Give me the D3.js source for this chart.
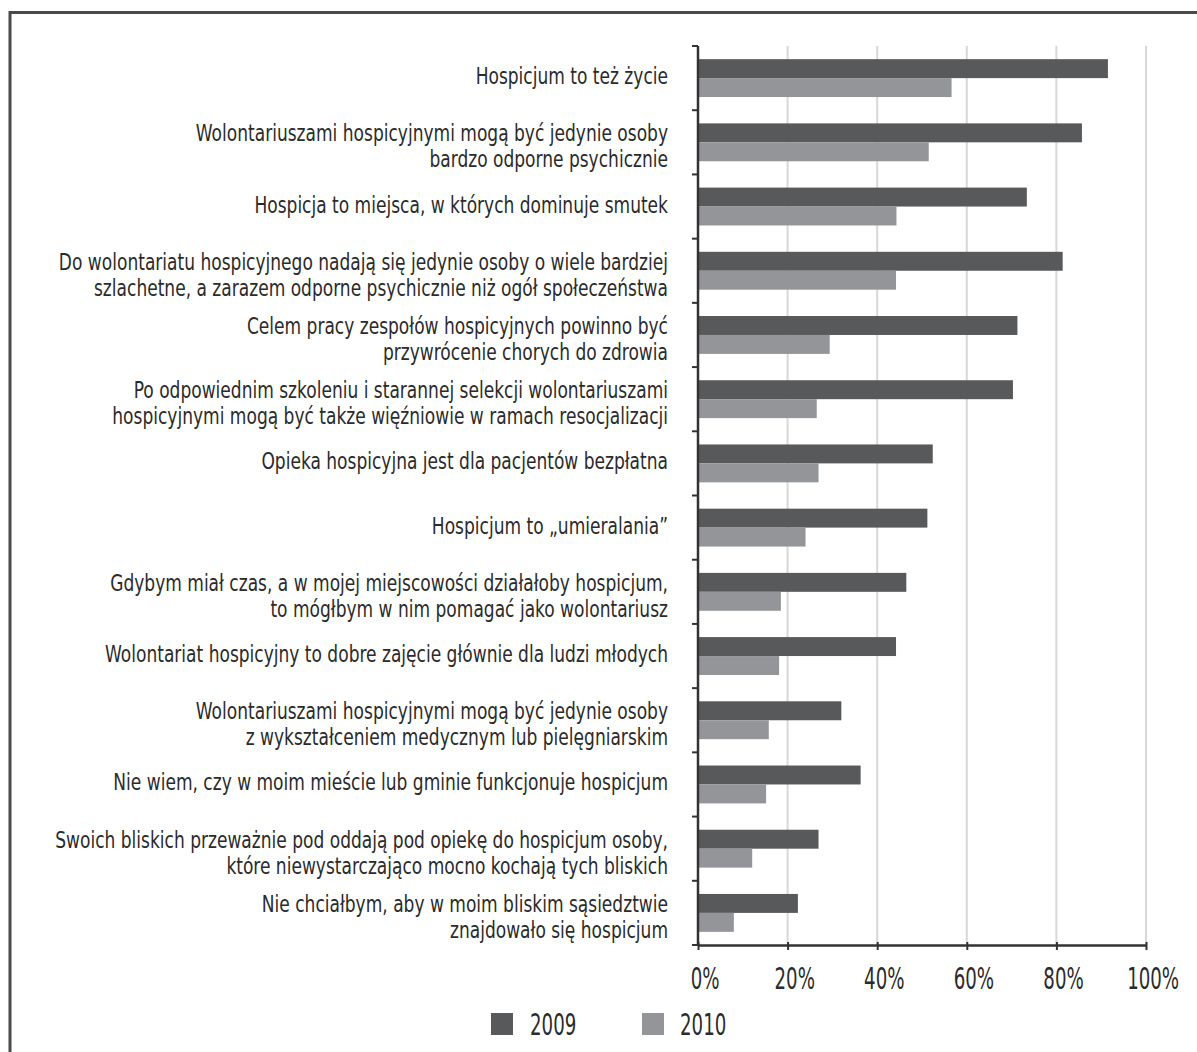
<!DOCTYPE html>
<html>
<head>
<meta charset="utf-8">
<script src="https://cdn.jsdelivr.net/npm/d3@7"></script>
<style>
  html, body { margin: 0; padding: 0; background: #fff; }
  svg { display: block; }
  text { font-family: "Liberation Sans Narrow", "Arial Narrow", "DejaVu Sans Condensed", "Liberation Sans", sans-serif; fill: #2b2b2b; }
</style>
</head>
<body>
<svg id="chart" width="1197" height="1052"></svg>
<script>
// Survey statements (each line of a label separated by "\n")
const statements = [
  "Hospicjum to też życie",
  "Wolontariuszami hospicyjnymi mogą być jedynie osoby\nbardzo odporne psychicznie",
  "Hospicja to miejsca, w których dominuje smutek",
  "Do wolontariatu hospicyjnego nadają się jedynie osoby o wiele bardziej\nszlachetne, a zarazem odporne psychicznie niż ogół społeczeństwa",
  "Celem pracy zespołów hospicyjnych powinno być\nprzywrócenie chorych do zdrowia",
  "Po odpowiednim szkoleniu i starannej selekcji wolontariuszami\nhospicyjnymi mogą być także więźniowie w ramach resocjalizacji",
  "Opieka hospicyjna jest dla pacjentów bezpłatna",
  "Hospicjum to „umieralania”",
  "Gdybym miał czas, a w mojej miejscowości działałoby hospicjum,\nto mógłbym w nim pomagać jako wolontariusz",
  "Wolontariat hospicyjny to dobre zajęcie głównie dla ludzi młodych",
  "Wolontariuszami hospicyjnymi mogą być jedynie osoby\nz wykształceniem medycznym lub pielęgniarskim",
  "Nie wiem, czy w moim mieście lub gminie funkcjonuje hospicjum",
  "Swoich bliskich przeważnie pod oddają pod opiekę do hospicjum osoby,\nktóre niewystarczająco mocno kochają tych bliskich",
  "Nie chciałbym, aby w moim bliskim sąsiedztwie\nznajdowało się hospicjum"
];

const years = ["2009", "2010"];

// Share of respondents agreeing, in percent
const values2009 = [91.5, 85.7, 73.4, 81.4, 71.3, 70.3, 52.4, 51.2, 46.5, 44.2, 32.0, 36.3, 26.9, 22.3];
const values2010 = [56.6, 51.5, 44.3, 44.2, 29.4, 26.5, 26.9, 24.0, 18.5, 18.1, 15.8, 15.2, 12.1, 8.0];

const tickValues = [0, 20, 40, 60, 80, 100];
const tickLabels = ["0%", "20%", "40%", "60%", "80%", "100%"];

const colors = { "2009": "#58595b", "2010": "#939598" };

const svg = d3.select("#chart");

// Page frame
svg.append("path")
  .attr("d", "M10,1052 V12.5 H1197")
  .attr("fill", "none")
  .attr("stroke", "#4a4a4a")
  .attr("stroke-width", 3);

const plot = { left: 698, right: 1146, top: 46, bottom: 945 };

const x = d3.scaleLinear().domain([0, 100]).range([plot.left, plot.right]);

const y = d3.scaleBand()
  .domain(d3.range(statements.length))
  .range([plot.top, plot.bottom])
  .paddingInner(0.41)
  .paddingOuter(0.205);

const ySub = d3.scaleBand().domain(years).range([0, y.bandwidth()]).padding(0);

const step = y.step();
const bandTop = i => plot.top + i * step;
const bandCenter = i => bandTop(i) + step / 2;

// Vertical gridlines
svg.append("g")
  .selectAll("line")
  .data(tickValues.filter(d => d > 0))
  .join("line")
  .attr("x1", d => x(d)).attr("x2", d => x(d))
  .attr("y1", plot.top).attr("y2", plot.bottom)
  .attr("stroke", "#d8d8d8")
  .attr("stroke-width", 2);

// Bars
const rows = statements.map((s, i) => ({ i, v: { "2009": values2009[i], "2010": values2010[i] } }));
const groups = svg.append("g")
  .selectAll("g")
  .data(rows)
  .join("g")
  .attr("transform", d => `translate(0,${y(d.i)})`);

groups.selectAll("rect")
  .data(d => years.map(k => ({ k, v: d.v[k] })))
  .join("rect")
  .attr("x", x(0))
  .attr("y", d => ySub(d.k))
  .attr("width", d => x(d.v) - x(0))
  .attr("height", ySub.bandwidth())
  .attr("fill", d => colors[d.k]);

// Y axis line with ticks at category boundaries
svg.append("line")
  .attr("x1", plot.left).attr("x2", plot.left)
  .attr("y1", plot.top).attr("y2", plot.bottom)
  .attr("stroke", "#333").attr("stroke-width", 2.5);

svg.append("g")
  .selectAll("line")
  .data(d3.range(statements.length + 1))
  .join("line")
  .attr("x1", plot.left - 6).attr("x2", plot.left)
  .attr("y1", i => bandTop(i)).attr("y2", i => bandTop(i))
  .attr("stroke", "#333").attr("stroke-width", 2);

// X axis
const xAxis = svg.append("g")
  .attr("transform", `translate(0,${plot.bottom})`)
  .call(d3.axisBottom(x).tickValues(tickValues).tickFormat((d, i) => tickLabels[i]).tickSizeInner(5).tickSizeOuter(0).tickPadding(18));
xAxis.select(".domain").attr("stroke", "#333").attr("stroke-width", 2.5);
xAxis.selectAll(".tick line").attr("stroke", "#333").attr("stroke-width", 2).attr("y1", -3);
xAxis.selectAll(".tick text")
  .attr("font-family", null)
  .attr("font-size", 30)
  .attr("fill", "#2b2b2b")
  .attr("dy", "0.71em")
  .attr("dx", 5);

// Category labels, right-aligned against the axis
const labelFont = 23.5;
const labelGroup = svg.append("g");
const labels = labelGroup.selectAll("g")
  .data(statements)
  .join("g");

labels.each(function (s, i) {
  const lines = s.split("\n");
  const c = bandCenter(i);
  const base = lines.length === 1 ? c + 6 : c - 1;
  const t = d3.select(this).append("text")
    .attr("text-anchor", "end")
    .attr("font-size", labelFont);
  lines.forEach((ln, j) => {
    t.append("tspan").attr("x", 0).attr("y", base + j * 26).text(ln);
  });
});

// Fit the label font's width so the longest line spans the reserved column
let maxW = 0;
labels.selectAll("text").each(function () { maxW = Math.max(maxW, this.getBBox().width); });
const labelScale = 613 / maxW;
labels.attr("transform", `translate(668,0) scale(${labelScale},1)`);

// Tick label condensing to the same narrow proportions
let tickW = 0;
xAxis.selectAll(".tick text").filter(d => d === 100).each(function () { tickW = this.getBBox().width; });
const tickScale = 52 / tickW;
xAxis.selectAll(".tick text")
  .attr("transform", function (d) { return `translate(${5 - 5 * tickScale},0) scale(${tickScale},1)`; })
  .attr("x", function (d) { return 0; });
xAxis.selectAll(".tick text").attr("dx", 5 / tickScale);

// Legend
const legend = svg.append("g");
const legendItems = [
  { k: "2009", sx: 491, tx: 530 },
  { k: "2010", sx: 642, tx: 680 }
];
legend.selectAll("rect")
  .data(legendItems)
  .join("rect")
  .attr("x", d => d.sx).attr("y", 1013)
  .attr("width", 22).attr("height", 22)
  .attr("fill", d => colors[d.k]);

const legendText = legend.selectAll("g.lt")
  .data(legendItems)
  .join("g")
  .attr("class", "lt");
legendText.append("text")
  .attr("font-size", 30)
  .attr("y", 1035)
  .text(d => d.k);
legendText.attr("transform", d => `translate(${d.tx},0) scale(${tickScale},1)`);
</script>
</body>
</html>
